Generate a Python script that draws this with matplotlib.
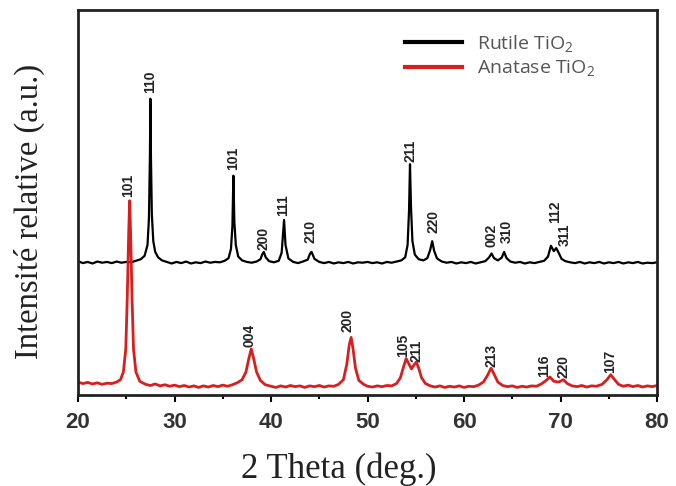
import matplotlib
matplotlib.use('Agg')
import matplotlib.pyplot as plt

# XRD patterns, values (intensity in arbitrary units, 0-100 scale)
rutile_2theta = [20.0, 20.5, 21.0, 21.5, 22.0, 22.5, 23.0, 23.5, 24.0, 24.5, 25.0, 25.5, 26.0, 26.5,
                 26.9, 27.2, 27.35, 27.45, 27.5, 27.55, 27.65, 27.8, 28.0, 28.3, 28.7, 29.2, 29.7,
                 30.2, 30.7, 31.2, 31.7, 32.2, 32.7, 33.2, 33.7, 34.2, 34.7, 35.2, 35.6, 35.85, 36.0,
                 36.1, 36.2, 36.35, 36.6, 37.0, 37.5, 38.0, 38.5, 38.9, 39.1, 39.25, 39.45, 39.8,
                 40.3, 40.8, 41.1, 41.25, 41.35, 41.5, 41.8, 42.3, 42.8, 43.3, 43.8, 44.05, 44.2,
                 44.5, 45.0, 45.5, 46.0, 46.5, 47.0, 47.5, 48.0, 48.5, 49.0, 49.5, 50.0, 50.5, 51.0,
                 51.5, 52.0, 52.5, 53.0, 53.5, 53.9, 54.15, 54.3, 54.4, 54.5, 54.65, 54.9, 55.3,
                 55.8, 56.2, 56.5, 56.7, 56.9, 57.2, 57.7, 58.2, 58.7, 59.2, 59.7, 60.2, 60.7, 61.2,
                 61.7, 62.2, 62.6, 62.85, 63.1, 63.5, 63.9, 64.15, 64.4, 64.8, 65.3, 65.8, 66.3,
                 66.8, 67.3, 67.8, 68.3, 68.7, 69.0, 69.3, 69.55, 69.8, 70.1, 70.5, 71.0, 71.5, 72.0,
                 72.5, 73.0, 73.5, 74.0, 74.5, 75.0, 75.5, 76.0, 76.5, 77.0, 77.5, 78.0, 78.5, 79.0,
                 79.5, 80.0]
rutile_int = [34.8, 34.3, 34.6, 34.2, 34.7, 34.4, 34.6, 34.3, 34.7, 34.4, 34.6, 34.5, 34.9, 35.3,
              36.2, 39.0, 46.0, 62.0, 77.0, 63.0, 47.0, 40.0, 37.2, 35.8, 35.0, 34.6, 34.2,
              34.6, 34.3, 34.7, 34.2, 34.5, 34.3, 34.7, 34.4, 34.6, 34.5, 34.9, 35.6, 38.0, 44.0,
              57.0, 45.0, 39.0, 36.0, 35.0, 34.6, 34.4, 34.7, 35.3, 36.6, 37.2, 35.8, 34.8,
              34.5, 34.9, 37.0, 42.0, 45.5, 39.0, 35.5, 34.6, 34.3, 34.7, 35.2, 36.8, 37.2,
              35.4, 34.6, 34.3, 34.6, 34.2, 34.5, 34.3, 34.6, 34.2, 34.5, 34.4, 34.6, 34.3, 34.5,
              34.2, 34.6, 34.4, 34.7, 35.0, 35.8, 39.0, 48.0, 60.0, 49.0, 40.0, 36.5, 35.3,
              35.0, 35.6, 37.8, 40.0, 37.5, 35.5, 34.7, 34.4, 34.6, 34.2, 34.5, 34.3, 34.6, 34.2,
              34.5, 34.8, 35.8, 36.8, 35.6, 35.0, 35.7, 37.2, 35.6, 34.7, 34.4, 34.6, 34.2,
              34.5, 34.3, 34.6, 34.9, 36.0, 38.8, 37.4, 38.2, 37.0, 35.4, 34.8, 34.5, 34.3, 34.6,
              34.2, 34.5, 34.3, 34.6, 34.2, 34.5, 34.3, 34.6, 34.2, 34.5, 34.3, 34.6, 34.2, 34.4,
              34.3, 34.5]

anatase_2theta = [20.0, 20.5, 21.0, 21.5, 22.0, 22.5, 23.0, 23.5, 24.0, 24.4, 24.7, 24.95, 25.1,
                  25.25, 25.35, 25.45, 25.6, 25.75, 26.0, 26.4, 27.0, 27.5, 28.0, 28.5, 29.0, 29.5,
                  30.0, 30.5, 31.0, 31.5, 32.0, 32.5, 33.0, 33.5, 34.0, 34.5, 35.0, 35.5, 36.0,
                  36.5, 37.0, 37.4, 37.7, 37.95, 38.2, 38.5, 38.9, 39.4, 40.0, 40.5, 41.0, 41.5,
                  42.0, 42.5, 43.0, 43.5, 44.0, 44.5, 45.0, 45.5, 46.0, 46.5, 47.0, 47.5, 47.85,
                  48.1, 48.3, 48.5, 48.75, 49.1, 49.6, 50.0, 50.5, 51.0, 51.5, 52.0, 52.5, 53.0,
                  53.4, 53.75, 54.0, 54.3, 54.55, 54.8, 55.05, 55.3, 55.6, 56.0, 56.5, 57.0, 57.5,
                  58.0, 58.5, 59.0, 59.5, 60.0, 60.5, 61.0, 61.5, 62.0, 62.4, 62.8, 63.1, 63.5,
                  64.0, 64.5, 65.0, 65.5, 66.0, 66.5, 67.0, 67.5, 68.0, 68.5, 68.9, 69.3, 69.8,
                  70.3, 70.7, 71.2, 71.7, 72.2, 72.7, 73.2, 73.7, 74.3, 74.8, 75.2, 75.6, 76.0,
                  76.5, 77.0, 77.5, 78.0, 78.5, 79.0, 79.5, 80.0]
anatase_int = [3.4, 3.0, 3.3, 2.9, 3.2, 2.8, 3.1, 3.0, 3.4, 4.0, 6.0, 12.0, 25.0,
               42.0, 50.5, 42.0, 25.0, 12.0, 6.0, 3.6, 2.8, 2.5, 2.9, 2.4, 2.7, 2.3,
               2.6, 2.2, 2.5, 2.1, 2.4, 2.0, 2.4, 2.1, 2.5, 2.2, 2.6, 2.3, 2.7,
               3.2, 4.0, 6.0, 9.5, 12.0, 9.5, 6.0, 3.8, 2.7, 2.3, 2.0, 2.4, 2.1,
               2.5, 2.2, 2.4, 2.0, 2.4, 2.2, 2.5, 2.1, 2.4, 2.3, 2.8, 4.0, 8.0,
               13.0, 15.0, 12.0, 7.0, 3.8, 2.8, 2.3, 2.1, 2.4, 2.2, 2.5, 2.4, 3.0,
               4.5, 7.5, 9.5, 8.0, 6.8, 7.8, 8.6, 7.0, 4.5, 3.0, 2.4, 2.1, 2.4,
               2.0, 2.3, 2.1, 2.4, 2.0, 2.3, 2.2, 2.6, 3.4, 5.0, 7.0, 5.5, 3.4,
               2.5, 2.2, 2.4, 2.0, 2.3, 2.1, 2.4, 2.3, 2.9, 3.8, 4.7, 3.6, 3.4,
               4.0, 3.0, 2.4, 2.2, 2.5, 2.1, 2.4, 2.3, 2.8, 4.0, 5.3, 4.0, 2.8,
               2.3, 2.6, 2.2, 2.5, 2.1, 2.4, 2.2, 2.5]

# (hkl) labels: text, position, bottom of the text
rutile_hkl = ['110', '101', '200', '111', '210', '211', '220', '002', '310', '112', '311']
rutile_hkl_x = [27.5, 36.1, 39.2, 41.3, 44.1, 54.4, 56.8, 62.8, 64.4, 69.4, 70.4]
rutile_hkl_y = [78.5, 58.5, 37.8, 46.5, 39.5, 60.5, 42.0, 38.5, 39.5, 44.7, 38.8]

anatase_hkl = ['101', '004', '200', '105', '211', '213', '116', '220', '107']
anatase_hkl_x = [25.2, 37.8, 47.9, 53.7, 55.1, 62.8, 68.3, 70.3, 75.1]
anatase_hkl_y = [51.5, 12.5, 16.3, 10.0, 8.6, 7.3, 4.8, 4.4, 5.8]

plt.rcParams['mathtext.fontset'] = 'custom'
plt.rcParams['mathtext.rm'] = 'Open Sans'

fig = plt.figure(figsize=(6.76, 4.86), dpi=100)
ax = fig.add_axes([0.1154, 0.187, 0.8566, 0.792])

ax.plot(rutile_2theta, rutile_int, color='black', lw=1.6, label='Rutile TiO$_2$')
ax.plot(anatase_2theta, anatase_int, color='#d81e1e', lw=2.0, label='Anatase TiO$_2$')

for t, x, y in zip(rutile_hkl, rutile_hkl_x, rutile_hkl_y):
    ax.text(x, y, t, rotation=90, ha='center', va='bottom', fontsize=10,
            fontweight='bold', family='Liberation Sans', color='#222222')
for t, x, y in zip(anatase_hkl, anatase_hkl_x, anatase_hkl_y):
    ax.text(x, y, t, rotation=90, ha='center', va='bottom', fontsize=10,
            fontweight='bold', family='Liberation Sans', color='#222222')

ax.set_xlim(20, 80)
ax.set_ylim(0, 100)
ax.set_xticks([20, 30, 40, 50, 60, 70, 80])
ax.set_xticks([25, 35, 45, 55, 65, 75], minor=True)
ax.set_yticks([])
ax.tick_params(axis='x', which='major', direction='out', length=5, width=1.5, pad=7)
ax.tick_params(axis='x', which='minor', direction='out', length=3, width=1.5)
for lbl in ax.get_xticklabels():
    lbl.set_fontsize(16)
    lbl.set_fontweight('bold')
    lbl.set_family('Liberation Sans')
    lbl.set_color('#333333')
for s in ax.spines.values():
    s.set_linewidth(2)
    s.set_color('#222222')

ax.set_xlabel('2 Theta (deg.)', family='Liberation Serif', fontsize=25, color='#222222')
ax.set_ylabel('Intensité relative (a.u.)', family='Liberation Serif', fontsize=23.5, color='#222222')
ax.xaxis.set_label_coords(0.45, -0.148)
ax.yaxis.set_label_coords(-0.057, 0.478)

leg = ax.legend(loc='upper left', bbox_to_anchor=(0.565, 0.94), frameon=False,
                prop={'family': 'Open Sans', 'size': 14}, handlelength=2.9,
                handletextpad=0.8, labelspacing=0.2, borderpad=0, borderaxespad=0)
for line in leg.get_lines():
    line.set_linewidth(3)
for txt in leg.get_texts():
    txt.set_color('#555555')

fig.savefig('out.png', dpi=100)
